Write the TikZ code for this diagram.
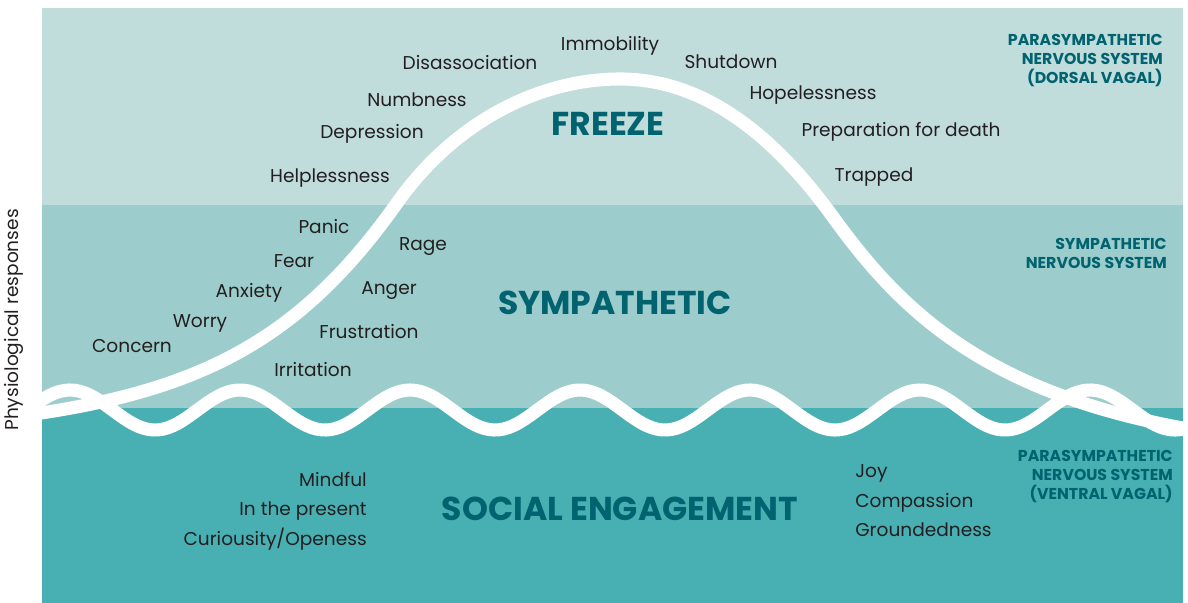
\documentclass[tikz,border=0pt]{standalone}
\usepackage{fontspec}
\setmainfont{Poppins}
\usetikzlibrary{positioning}

\definecolor{topband}{HTML}{C0DCDB}
\definecolor{midband}{HTML}{9CCDCC}
\definecolor{lowband}{HTML}{48B0B3}
\definecolor{headteal}{HTML}{00636F}
\definecolor{labelgray}{HTML}{231F20}

\begin{document}
\begin{tikzpicture}[x=0.025cm, y=-0.025cm]
    \tikzset{
        lbl/.style={inner sep=0pt, text=labelgray, font=\fontsize{13.2}{21}\selectfont},
        head/.style={inner sep=0pt, text=headteal, font=\fontsize{23.5}{26}\selectfont\bfseries},
        side/.style={inner sep=0pt, text=headteal, anchor=east, align=right,
            font=\fontsize{11.2}{13.5}\selectfont\bfseries},
        line/.style={white, line width=9.3pt, line cap=round}
    }
    \useasboundingbox (0,0) rectangle (1188,603);

    % the three bands
    \fill[topband] (42,8) rectangle (1183,205);
    \fill[midband] (42,205) rectangle (1183,408);
    \fill[lowband] (42,408) rectangle (1183,603);

    % wave and bell curve
    \begin{scope}
        \clip (42,8) rectangle (1183,603);
        \draw[line] plot[domain=20:1200, samples=240] (\x, {410-20*cos(2.1176*(\x-70))});
        \draw[line] (20,416) .. controls (200,392) and (300,340) .. (397,203)
            .. controls (455,121) and (540,79) .. (620,79)
            .. controls (700,79) and (770,130) .. (833,217)
            .. controls (896,304) and (980,395) .. (1200,431);
    \end{scope}

    % axis label
    \node[lbl, rotate=90] (axis) at (14,320) {Physiological responses};

    % freeze
    \node[head] (freeze) at (608,124) {FREEZE};
    \node[lbl] (immob) at (610,46) {Immobility};
    \node[lbl] (shut) at (731,62) {Shutdown};
    \node[lbl] (disas) at (470,63) {Disassociation};
    \node[lbl] (numb) at (417,100) {Numbness};
    \node[lbl] (hopel) at (813,95) {Hopelessness};
    \node[lbl] (depr) at (372,134) {Depression};
    \node[lbl] (prep) at (901,132) {Preparation for death};
    \node[lbl] (helpl) at (330,178) {Helplessness};
    \node[lbl] (trap) at (874,177) {Trapped};

    % sympathetic
    \node[head] (symp) at (615,303) {SYMPATHETIC};
    \node[lbl] (panic) at (324,227) {Panic};
    \node[lbl] (rage) at (423,247) {Rage};
    \node[lbl] (fear) at (294,261) {Fear};
    \node[lbl] (anxi) at (249,293) {Anxiety};
    \node[lbl] (anger) at (389,291) {Anger};
    \node[lbl] (worry) at (200,323) {Worry};
    \node[lbl] (frust) at (369,332) {Frustration};
    \node[lbl] (conc) at (132,346) {Concern};
    \node[lbl] (irrit) at (313,370) {Irritation};

    % social engagement
    \node[head] (social) at (620,509) {SOCIAL ENGAGEMENT};
    \node[lbl, anchor=east, align=right] (mind) at (367,511) {Mindful\\In the present\\Curiousity/Openess};
    \node[lbl, anchor=west, align=left] (joy) at (855,501) {Joy\\Compassion\\Groundedness};

    % nervous systems
    \node[side] (dorsal) at (1163,61) {PARASYMPATHETIC\\NERVOUS SYSTEM\\(DORSAL VAGAL)};
    \node[side] (sympns) at (1167,253) {SYMPATHETIC\\NERVOUS SYSTEM};
    \node[side] (ventral) at (1173,477) {PARASYMPATHETIC\\NERVOUS SYSTEM\\(VENTRAL VAGAL)};
\end{tikzpicture}
\end{document}
